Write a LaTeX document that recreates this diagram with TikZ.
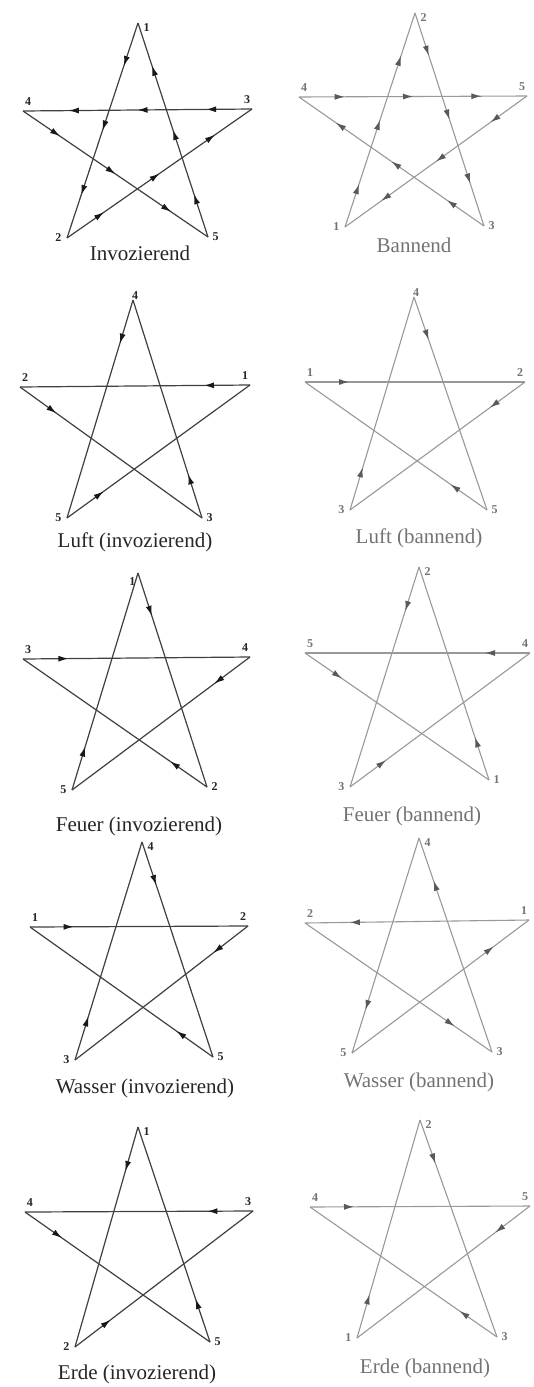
\documentclass[tikz,border=0pt]{standalone}
\usepackage{fontspec}
\setmainfont{Liberation Serif}
\usetikzlibrary{decorations.markings,arrows.meta}
\tikzset{
  tipA/.style={decoration={markings,mark=at position 0.2 with {\arrow{Latex[length=10pt,width=6pt,color=#1]}}},postaction={decorate}},
  tipE/.style={decoration={markings,mark=at position 0.8 with {\arrow{Latex[length=10pt,width=6pt,color=#1]}}},postaction={decorate}},
  tipM/.style={decoration={markings,
     mark=at position 0.2 with {\arrow{Latex[length=10pt,width=6pt,color=#1]}},
     mark=at position 0.5 with {\arrow{Latex[length=10pt,width=6pt,color=#1]}},
     mark=at position 0.8 with {\arrow{Latex[length=10pt,width=6pt,color=#1]}}},postaction={decorate}},
  darkedge/.style={draw=black!75,line width=1.2pt},
  lightedge/.style={draw=black!40,line width=1.1pt},
  labT/.style={anchor=west,xshift=2pt,yshift=-5pt,font=\fontsize{12}{12}\selectfont\bfseries},
  labL/.style={anchor=south,xshift=5pt,yshift=2pt,font=\fontsize{12}{12}\selectfont\bfseries},
  labR/.style={anchor=south,xshift=-5pt,yshift=2pt,font=\fontsize{12}{12}\selectfont\bfseries},
  labBL/.style={anchor=east,xshift=-2pt,font=\fontsize{12}{12}\selectfont\bfseries},
  labBR/.style={anchor=west,xshift=1pt,font=\fontsize{12}{12}\selectfont\bfseries},
  captext/.style={font=\fontsize{21}{21}\selectfont},
  darktext/.style={text=black!85},
  lighttext/.style={text=black!55},
}
\newcommand\pentedges[3]{%
  \foreach \a/\b in {1/2,2/3,3/4,4/5,5/1}{\draw[#2,#3] (#1\a) -- (#1\b);}}
\begin{document}
\begin{tikzpicture}[x=1pt,y=-1pt]
\useasboundingbox[fill=white] (0,0) rectangle (534,1387);
% ---------- Star A: Invozierend ----------
\coordinate (A1) at (138,23);  \coordinate (A2) at (67,238);
\coordinate (A3) at (252,109); \coordinate (A4) at (23,111);
\coordinate (A5) at (208,237);
\pentedges{A}{darkedge}{tipM=black!90}
\node[labT,darktext] (A1l) at (A1) {1};
\node[labBL,darktext] (A2l) at (A2) {2};
\node[labR,darktext] (A3l) at (A3) {3};
\node[labL,darktext] (A4l) at (A4) {4};
\node[labBR,darktext] (A5l) at (A5) {5};
\node[captext,darktext] (Acap) at (140,253) {Invozierend};
% ---------- Star B: Bannend ----------
\coordinate (B1) at (345,227); \coordinate (B2) at (415,13);
\coordinate (B3) at (484,226); \coordinate (B4) at (299,97);
\coordinate (B5) at (527,96);
\pentedges{B}{lightedge}{tipM=black!65}
\node[labBL,lighttext] (B1l) at (B1) {1};
\node[labT,lighttext] (B2l) at (B2) {2};
\node[labBR,lighttext] (B3l) at (B3) {3};
\node[labL,lighttext] (B4l) at (B4) {4};
\node[labR,lighttext] (B5l) at (B5) {5};
\node[captext,lighttext] (Bcap) at (414,245) {Bannend};
% ---------- Star C: Luft (invozierend) ----------
\coordinate (C1) at (250,385); \coordinate (C2) at (20,387);
\coordinate (C3) at (202,518); \coordinate (C4) at (133,300);
\coordinate (C5) at (67,518);
\pentedges{C}{darkedge}{tipA=black!90}
\node[labR,darktext] (C1l) at (C1) {1};
\node[labL,darktext] (C2l) at (C2) {2};
\node[labBR,darktext] (C3l) at (C3) {3};
\node[labT,darktext,anchor=south,xshift=0pt,yshift=2pt] (C4l) at (C4) {4};
\node[labBL,darktext] (C5l) at (C5) {5};
\node[captext,darktext] (Ccap) at (135,542) {Luft (invozierend)};
% ---------- Star D: Luft (bannend) ----------
\coordinate (D1) at (305,382); \coordinate (D2) at (525,382);
\coordinate (D3) at (350,510); \coordinate (D4) at (414,297);
\coordinate (D5) at (487,510);
\pentedges{D}{lightedge}{tipA=black!65}
\node[labL,lighttext] (D1l) at (D1) {1};
\node[labR,lighttext] (D2l) at (D2) {2};
\node[labBL,lighttext] (D3l) at (D3) {3};
\node[labT,lighttext,anchor=south,xshift=0pt,yshift=2pt] (D4l) at (D4) {4};
\node[labBR,lighttext] (D5l) at (D5) {5};
\node[captext,lighttext] (Dcap) at (419,538) {Luft (bannend)};
% ---------- Star E: Feuer (invozierend) ----------
\coordinate (E1) at (138,573); \coordinate (E2) at (207,787);
\coordinate (E3) at (23,659);  \coordinate (E4) at (250,657);
\coordinate (E5) at (72,790);
\pentedges{E}{darkedge}{tipA=black!90}
\node[labT,darktext,anchor=east,xshift=-1pt,yshift=-4pt] (E1l) at (E1) {1};
\node[labBR,darktext] (E2l) at (E2) {2};
\node[labL,darktext] (E3l) at (E3) {3};
\node[labR,darktext] (E4l) at (E4) {4};
\node[labBL,darktext] (E5l) at (E5) {5};
\node[captext,darktext] (Ecap) at (139,826) {Feuer (invozierend)};
% ---------- Star F: Feuer (bannend) ----------
\coordinate (F1) at (489,780); \coordinate (F2) at (419,567);
\coordinate (F3) at (350,787); \coordinate (F4) at (530,653);
\coordinate (F5) at (305,653);
\pentedges{F}{lightedge}{tipA=black!65}
\node[labBR,lighttext] (F1l) at (F1) {1};
\node[labT,lighttext] (F2l) at (F2) {2};
\node[labBL,lighttext] (F3l) at (F3) {3};
\node[labR,lighttext] (F4l) at (F4) {4};
\node[labL,lighttext] (F5l) at (F5) {5};
\node[captext,lighttext] (Fcap) at (412,816) {Feuer (bannend)};
% ---------- Star G: Wasser (invozierend) ----------
\coordinate (G1) at (30,927);  \coordinate (G2) at (248,926);
\coordinate (G3) at (75,1060); \coordinate (G4) at (142,842);
\coordinate (G5) at (213,1057);
\pentedges{G}{darkedge}{tipA=black!90}
\node[labL,darktext] (G1l) at (G1) {1};
\node[labR,darktext] (G2l) at (G2) {2};
\node[labBL,darktext] (G3l) at (G3) {3};
\node[labT,darktext] (G4l) at (G4) {4};
\node[labBR,darktext] (G5l) at (G5) {5};
\node[captext,darktext] (Gcap) at (145,1088) {Wasser (invozierend)};
% ---------- Star H: Wasser (bannend) ----------
\coordinate (H1) at (529,920); \coordinate (H2) at (305,923);
\coordinate (H3) at (492,1052); \coordinate (H4) at (419,838);
\coordinate (H5) at (352,1053);
\pentedges{H}{lightedge}{tipE=black!65}
\node[labR,lighttext] (H1l) at (H1) {1};
\node[labL,lighttext] (H2l) at (H2) {2};
\node[labBR,lighttext] (H3l) at (H3) {3};
\node[labT,lighttext] (H4l) at (H4) {4};
\node[labBL,lighttext] (H5l) at (H5) {5};
\node[captext,lighttext] (Hcap) at (419,1082) {Wasser (bannend)};
% ---------- Star I: Erde (invozierend) ----------
\coordinate (I1) at (138,1127); \coordinate (I2) at (75,1347);
\coordinate (I3) at (253,1211); \coordinate (I4) at (25,1212);
\coordinate (I5) at (210,1342);
\pentedges{I}{darkedge}{tipA=black!90}
\node[labT,darktext] (I1l) at (I1) {1};
\node[labBL,darktext] (I2l) at (I2) {2};
\node[labR,darktext] (I3l) at (I3) {3};
\node[labL,darktext] (I4l) at (I4) {4};
\node[labBR,darktext] (I5l) at (I5) {5};
\node[captext,darktext] (Icap) at (137,1374) {Erde (invozierend)};
% ---------- Star J: Erde (bannend) ----------
\coordinate (J1) at (357,1338); \coordinate (J2) at (420,1120);
\coordinate (J3) at (497,1337); \coordinate (J4) at (310,1207);
\coordinate (J5) at (530,1206);
\pentedges{J}{lightedge}{tipA=black!65}
\node[labBL,lighttext] (J1l) at (J1) {1};
\node[labT,lighttext] (J2l) at (J2) {2};
\node[labBR,lighttext] (J3l) at (J3) {3};
\node[labL,lighttext] (J4l) at (J4) {4};
\node[labR,lighttext] (J5l) at (J5) {5};
\node[captext,lighttext] (Jcap) at (425,1368) {Erde (bannend)};
\end{tikzpicture}
\end{document}
